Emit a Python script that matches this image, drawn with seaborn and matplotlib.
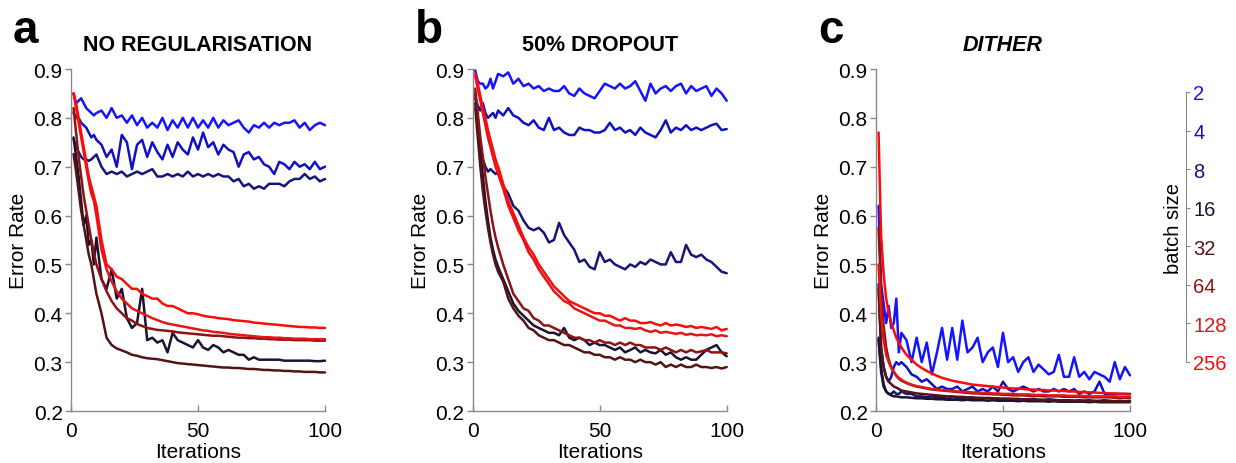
import numpy as np
import pandas as pd
import matplotlib
matplotlib.use('Agg')
import matplotlib.pyplot as plt
import seaborn as sns

iters = list(range(1, 11)) + list(range(12, 101, 2))

batch_sizes = ['2', '4', '8', '16', '32', '64', '128', '256']
batch_colors = ['#1414ff', '#1010c4', '#15157a', '#1e1232',
                '#521414', '#8e1212', '#e41616', '#ff0a0a']

# ---- a: no regularisation
a_2 = [0.85, 0.83, 0.835, 0.84, 0.83, 0.82, 0.815, 0.81, 0.805, 0.81,
       0.815, 0.80, 0.82, 0.80, 0.805, 0.79, 0.805, 0.785, 0.80, 0.78,
       0.79, 0.78, 0.80, 0.775, 0.795, 0.78, 0.80, 0.78, 0.80, 0.78,
       0.795, 0.78, 0.80, 0.78, 0.795, 0.785, 0.79, 0.795, 0.78, 0.77,
       0.785, 0.78, 0.79, 0.78, 0.79, 0.785, 0.79, 0.79, 0.795, 0.78,
       0.79, 0.775, 0.785, 0.79, 0.785]
a_4 = [0.81, 0.80, 0.80, 0.79, 0.785, 0.78, 0.77, 0.76, 0.765, 0.755,
       0.745, 0.72, 0.735, 0.70, 0.765, 0.75, 0.695, 0.745, 0.755, 0.72,
       0.75, 0.73, 0.715, 0.745, 0.72, 0.75, 0.735, 0.725, 0.76, 0.735,
       0.77, 0.74, 0.75, 0.725, 0.745, 0.735, 0.73, 0.70, 0.725, 0.73,
       0.715, 0.72, 0.705, 0.70, 0.685, 0.71, 0.705, 0.695, 0.71, 0.70,
       0.705, 0.695, 0.71, 0.695, 0.70]
a_8 = [0.757, 0.74, 0.73, 0.72, 0.715, 0.715, 0.712, 0.715, 0.72, 0.725,
       0.70, 0.685, 0.69, 0.685, 0.69, 0.68, 0.685, 0.69, 0.685, 0.69,
       0.695, 0.68, 0.68, 0.685, 0.68, 0.685, 0.68, 0.69, 0.68, 0.685,
       0.68, 0.685, 0.68, 0.685, 0.68, 0.68, 0.67, 0.675, 0.66, 0.665,
       0.655, 0.66, 0.655, 0.665, 0.665, 0.665, 0.66, 0.67, 0.675, 0.675,
       0.685, 0.675, 0.68, 0.67, 0.675]
a_16 = [0.76, 0.72, 0.68, 0.63, 0.58, 0.60, 0.54, 0.55, 0.50, 0.555,
        0.47, 0.45, 0.49, 0.43, 0.45, 0.39, 0.37, 0.38, 0.45, 0.345,
        0.35, 0.34, 0.345, 0.32, 0.36, 0.345, 0.34, 0.335, 0.33, 0.345,
        0.33, 0.325, 0.335, 0.33, 0.32, 0.325, 0.32, 0.315, 0.315, 0.305,
        0.31, 0.305, 0.305, 0.305, 0.305, 0.305, 0.303, 0.303, 0.303, 0.303,
        0.303, 0.303, 0.302, 0.302, 0.303]
a_32 = [0.726, 0.69, 0.65, 0.61, 0.58, 0.55, 0.52, 0.50, 0.47, 0.44,
        0.40, 0.35, 0.335, 0.328, 0.324, 0.32, 0.315, 0.313, 0.31, 0.308,
        0.307, 0.306, 0.304, 0.302, 0.30, 0.298, 0.297, 0.296, 0.295, 0.294,
        0.293, 0.292, 0.291, 0.29, 0.289, 0.289, 0.288, 0.288, 0.287, 0.286,
        0.286, 0.285, 0.284, 0.284, 0.283, 0.283, 0.282, 0.282, 0.281, 0.281,
        0.28, 0.28, 0.28, 0.279, 0.279]
a_64 = [0.82, 0.77, 0.72, 0.68, 0.64, 0.61, 0.58, 0.55, 0.525, 0.50,
        0.47, 0.445, 0.425, 0.41, 0.40, 0.39, 0.385, 0.378, 0.374, 0.37,
        0.368, 0.366, 0.365, 0.364, 0.363, 0.361, 0.36, 0.359, 0.358, 0.357,
        0.356, 0.355, 0.354, 0.354, 0.353, 0.352, 0.351, 0.35, 0.35, 0.349,
        0.349, 0.348, 0.348, 0.347, 0.347, 0.346, 0.346, 0.346, 0.345, 0.345,
        0.345, 0.345, 0.344, 0.344, 0.344]
a_128 = [0.85, 0.82, 0.79, 0.76, 0.73, 0.70, 0.67, 0.645, 0.63, 0.60,
         0.53, 0.49, 0.465, 0.445, 0.43, 0.42, 0.41, 0.405, 0.40, 0.395,
         0.39, 0.386, 0.382, 0.379, 0.377, 0.375, 0.373, 0.371, 0.369, 0.367,
         0.365, 0.364, 0.362, 0.361, 0.36, 0.358, 0.357, 0.356, 0.355, 0.354,
         0.353, 0.352, 0.351, 0.351, 0.35, 0.35, 0.349, 0.349, 0.348, 0.348,
         0.348, 0.347, 0.347, 0.347, 0.347]
a_256 = [0.85, 0.83, 0.80, 0.77, 0.74, 0.71, 0.68, 0.66, 0.64, 0.62,
         0.55, 0.50, 0.49, 0.475, 0.47, 0.46, 0.45, 0.45, 0.44, 0.435,
         0.43, 0.43, 0.42, 0.415, 0.415, 0.41, 0.405, 0.40, 0.40, 0.398,
         0.395, 0.393, 0.392, 0.39, 0.389, 0.388, 0.386, 0.385, 0.384, 0.383,
         0.381, 0.38, 0.379, 0.378, 0.377, 0.376, 0.375, 0.374, 0.373, 0.372,
         0.372, 0.371, 0.371, 0.37, 0.37]

# ---- b: 50% dropout
b_2 = [0.897, 0.875, 0.87, 0.87, 0.86, 0.865, 0.88, 0.86, 0.875, 0.89,
       0.885, 0.893, 0.87, 0.88, 0.865, 0.87, 0.86, 0.865, 0.855, 0.86,
       0.855, 0.855, 0.865, 0.85, 0.845, 0.86, 0.85, 0.845, 0.84, 0.855,
       0.87, 0.865, 0.86, 0.87, 0.86, 0.865, 0.875, 0.855, 0.835, 0.87,
       0.85, 0.86, 0.865, 0.855, 0.865, 0.87, 0.85, 0.865, 0.855, 0.86,
       0.865, 0.845, 0.86, 0.85, 0.835]
b_4 = [0.84, 0.825, 0.815, 0.83, 0.81, 0.80, 0.805, 0.81, 0.80, 0.815,
       0.805, 0.82, 0.805, 0.80, 0.79, 0.785, 0.795, 0.78, 0.775, 0.80,
       0.775, 0.78, 0.77, 0.765, 0.765, 0.78, 0.775, 0.775, 0.77, 0.77,
       0.775, 0.79, 0.775, 0.78, 0.77, 0.775, 0.765, 0.78, 0.77, 0.765,
       0.76, 0.775, 0.795, 0.77, 0.78, 0.775, 0.785, 0.775, 0.78, 0.775,
       0.78, 0.785, 0.788, 0.775, 0.777]
b_8 = [0.83, 0.78, 0.74, 0.715, 0.70, 0.69, 0.695, 0.69, 0.685, 0.69,
       0.66, 0.645, 0.62, 0.61, 0.59, 0.575, 0.57, 0.575, 0.565, 0.545,
       0.55, 0.585, 0.56, 0.545, 0.53, 0.505, 0.51, 0.495, 0.49, 0.525,
       0.505, 0.51, 0.50, 0.495, 0.49, 0.50, 0.495, 0.505, 0.50, 0.51,
       0.505, 0.50, 0.50, 0.525, 0.505, 0.505, 0.54, 0.52, 0.515, 0.52,
       0.51, 0.505, 0.495, 0.485, 0.482]
b_16 = [0.85, 0.79, 0.73, 0.68, 0.63, 0.59, 0.555, 0.53, 0.51, 0.495,
        0.47, 0.445, 0.42, 0.405, 0.395, 0.385, 0.375, 0.37, 0.365, 0.36,
        0.36, 0.355, 0.37, 0.35, 0.345, 0.35, 0.345, 0.335, 0.34, 0.335,
        0.335, 0.33, 0.325, 0.33, 0.32, 0.325, 0.33, 0.32, 0.325, 0.32,
        0.318, 0.325, 0.315, 0.32, 0.31, 0.305, 0.31, 0.305, 0.305, 0.315,
        0.325, 0.33, 0.335, 0.32, 0.312]
b_32 = [0.82, 0.76, 0.70, 0.65, 0.61, 0.575, 0.545, 0.52, 0.50, 0.485,
        0.465, 0.43, 0.41, 0.395, 0.385, 0.37, 0.365, 0.355, 0.35, 0.345,
        0.345, 0.34, 0.335, 0.335, 0.33, 0.325, 0.32, 0.32, 0.315, 0.315,
        0.31, 0.31, 0.305, 0.31, 0.305, 0.305, 0.30, 0.305, 0.30, 0.30,
        0.295, 0.30, 0.29, 0.295, 0.29, 0.295, 0.29, 0.29, 0.295, 0.29,
        0.29, 0.288, 0.29, 0.287, 0.29]
b_64 = [0.86, 0.81, 0.76, 0.72, 0.68, 0.645, 0.61, 0.58, 0.555, 0.535,
        0.50, 0.47, 0.44, 0.425, 0.41, 0.405, 0.39, 0.385, 0.375, 0.375,
        0.37, 0.365, 0.36, 0.355, 0.35, 0.35, 0.345, 0.345, 0.34, 0.345,
        0.34, 0.34, 0.335, 0.34, 0.335, 0.34, 0.335, 0.335, 0.33, 0.33,
        0.33, 0.325, 0.33, 0.325, 0.32, 0.325, 0.32, 0.325, 0.32, 0.322,
        0.325, 0.32, 0.32, 0.32, 0.318]
b_128 = [0.885, 0.86, 0.835, 0.81, 0.785, 0.76, 0.74, 0.72, 0.70, 0.685,
         0.655, 0.62, 0.595, 0.57, 0.55, 0.525, 0.51, 0.49, 0.475, 0.46,
         0.445, 0.435, 0.425, 0.42, 0.41, 0.405, 0.40, 0.395, 0.39, 0.385,
         0.385, 0.38, 0.375, 0.375, 0.37, 0.37, 0.368, 0.37, 0.365, 0.362,
         0.365, 0.36, 0.362, 0.36, 0.358, 0.36, 0.356, 0.358, 0.355, 0.356,
         0.355, 0.357, 0.353, 0.355, 0.353]
b_256 = [0.89, 0.87, 0.845, 0.82, 0.80, 0.775, 0.755, 0.735, 0.715, 0.70,
         0.665, 0.63, 0.605, 0.58, 0.555, 0.535, 0.52, 0.50, 0.485, 0.47,
         0.455, 0.445, 0.435, 0.425, 0.42, 0.415, 0.41, 0.405, 0.40, 0.40,
         0.395, 0.395, 0.39, 0.385, 0.39, 0.385, 0.385, 0.38, 0.38, 0.382,
         0.378, 0.375, 0.38, 0.375, 0.377, 0.375, 0.372, 0.374, 0.37, 0.372,
         0.37, 0.368, 0.372, 0.365, 0.368]

# ---- c: dither
c_2 = [0.62, 0.46, 0.42, 0.38, 0.415, 0.37, 0.38, 0.43, 0.32, 0.36,
       0.345, 0.30, 0.35, 0.30, 0.34, 0.275, 0.32, 0.37, 0.305, 0.37,
       0.305, 0.385, 0.32, 0.33, 0.35, 0.30, 0.32, 0.33, 0.29, 0.36,
       0.30, 0.31, 0.28, 0.30, 0.31, 0.28, 0.295, 0.285, 0.275, 0.28,
       0.315, 0.27, 0.27, 0.31, 0.27, 0.28, 0.265, 0.28, 0.275, 0.27,
       0.26, 0.30, 0.265, 0.29, 0.273]
c_4 = [0.46, 0.33, 0.29, 0.27, 0.26, 0.27, 0.29, 0.30, 0.295, 0.30,
       0.29, 0.275, 0.27, 0.26, 0.265, 0.255, 0.245, 0.25, 0.245, 0.245,
       0.25, 0.24, 0.245, 0.25, 0.24, 0.245, 0.24, 0.25, 0.24, 0.26,
       0.245, 0.24, 0.245, 0.25, 0.245, 0.24, 0.245, 0.24, 0.24, 0.245,
       0.24, 0.245, 0.24, 0.245, 0.235, 0.24, 0.235, 0.24, 0.26, 0.235,
       0.235, 0.235, 0.235, 0.235, 0.235]
c_8 = [0.345, 0.29, 0.255, 0.24, 0.235, 0.235, 0.24, 0.235, 0.235, 0.24,
       0.235, 0.235, 0.23, 0.23, 0.228, 0.23, 0.228, 0.228, 0.225, 0.228,
       0.227, 0.226, 0.228, 0.225, 0.226, 0.225, 0.227, 0.226, 0.224, 0.225,
       0.225, 0.224, 0.225, 0.223, 0.224, 0.225, 0.223, 0.222, 0.224, 0.223,
       0.222, 0.22, 0.222, 0.221, 0.222, 0.221, 0.222, 0.22, 0.221, 0.222,
       0.221, 0.22, 0.221, 0.22, 0.221]
c_16 = [0.35, 0.28, 0.25, 0.24, 0.235, 0.232, 0.23, 0.23, 0.229, 0.228,
        0.228, 0.227, 0.226, 0.226, 0.225, 0.225, 0.224, 0.224, 0.223, 0.223,
        0.223, 0.222, 0.223, 0.222, 0.222, 0.222, 0.221, 0.222, 0.221, 0.221,
        0.221, 0.221, 0.22, 0.221, 0.22, 0.22, 0.22, 0.22, 0.219, 0.22,
        0.219, 0.219, 0.219, 0.219, 0.219, 0.219, 0.218, 0.219, 0.218, 0.218,
        0.218, 0.218, 0.218, 0.218, 0.218]
c_32 = [0.45, 0.33, 0.29, 0.27, 0.26, 0.255, 0.25, 0.248, 0.245, 0.242,
        0.24, 0.238, 0.236, 0.235, 0.234, 0.233, 0.232, 0.231, 0.23, 0.23,
        0.229, 0.229, 0.228, 0.228, 0.227, 0.227, 0.226, 0.226, 0.226, 0.225,
        0.225, 0.225, 0.224, 0.224, 0.224, 0.223, 0.223, 0.223, 0.223, 0.222,
        0.222, 0.222, 0.222, 0.221, 0.221, 0.221, 0.221, 0.221, 0.22, 0.22,
        0.22, 0.22, 0.22, 0.22, 0.22]
c_64 = [0.575, 0.45, 0.375, 0.33, 0.305, 0.29, 0.28, 0.272, 0.266, 0.262,
        0.257, 0.253, 0.25, 0.248, 0.246, 0.244, 0.243, 0.242, 0.241, 0.24,
        0.239, 0.238, 0.237, 0.236, 0.236, 0.235, 0.235, 0.234, 0.234, 0.233,
        0.233, 0.232, 0.232, 0.232, 0.231, 0.231, 0.231, 0.23, 0.23, 0.23,
        0.23, 0.229, 0.229, 0.229, 0.229, 0.228, 0.228, 0.228, 0.228, 0.228,
        0.228, 0.227, 0.227, 0.227, 0.227]
c_128 = [0.50, 0.40, 0.345, 0.315, 0.30, 0.288, 0.28, 0.273, 0.268, 0.264,
         0.258, 0.254, 0.251, 0.249, 0.247, 0.245, 0.244, 0.243, 0.242, 0.241,
         0.24, 0.239, 0.239, 0.238, 0.238, 0.237, 0.237, 0.236, 0.236, 0.235,
         0.235, 0.235, 0.234, 0.234, 0.234, 0.233, 0.233, 0.233, 0.232, 0.232,
         0.232, 0.232, 0.231, 0.231, 0.231, 0.231, 0.23, 0.23, 0.23, 0.23,
         0.23, 0.23, 0.229, 0.229, 0.229]
c_256 = [0.77, 0.56, 0.48, 0.43, 0.40, 0.38, 0.365, 0.35, 0.34, 0.33,
         0.315, 0.305, 0.295, 0.288, 0.282, 0.277, 0.272, 0.268, 0.265, 0.262,
         0.26, 0.258, 0.256, 0.254, 0.253, 0.252, 0.251, 0.25, 0.249, 0.248,
         0.247, 0.246, 0.246, 0.245, 0.244, 0.244, 0.243, 0.243, 0.242, 0.242,
         0.241, 0.241, 0.24, 0.24, 0.239, 0.239, 0.238, 0.238, 0.237, 0.237,
         0.236, 0.236, 0.235, 0.235, 0.234]

panels = [
    ('a', 'NO REGULARISATION', 'normal', [a_2, a_4, a_8, a_16, a_32, a_64, a_128, a_256]),
    ('b', '50% DROPOUT', 'normal', [b_2, b_4, b_8, b_16, b_32, b_64, b_128, b_256]),
    ('c', 'DITHER', 'italic', [c_2, c_4, c_8, c_16, c_32, c_64, c_128, c_256]),
]
ax_left = [71, 472.7, 876]

sns.set_style('ticks')
plt.rcParams['font.family'] = ['Liberation Sans', 'DejaVu Sans']
plt.rcParams['text.color'] = 'black'
plt.rcParams['axes.labelcolor'] = 'black'

W, H = 1236, 464
fig = plt.figure(figsize=(W / 100, H / 100), dpi=100)
palette = dict(zip(batch_sizes, batch_colors))

for (letter, title, style, series), left in zip(panels, ax_left):
    ax = fig.add_axes([left / W, 1 - 412 / H, 254 / W, 342 / H])
    df = pd.DataFrame({
        'Iterations': np.tile(iters, len(batch_sizes)),
        'Error Rate': np.concatenate(series),
        'batch': np.repeat(batch_sizes, len(iters)),
    })
    sns.lineplot(data=df, x='Iterations', y='Error Rate', hue='batch',
                 hue_order=batch_sizes, palette=palette, estimator=None,
                 linewidth=1.8, legend=False, ax=ax, clip_on=False)
    ax.set_xlim(0, 100)
    ax.set_ylim(0.2, 0.9)
    ax.set_xticks([0, 50, 100])
    ax.set_yticks(np.round(np.arange(0.2, 0.91, 0.1), 1))
    ax.set_yticklabels(['%.1f' % v for v in np.arange(0.2, 0.91, 0.1)])
    sns.despine(ax=ax)
    for s in ['left', 'bottom']:
        ax.spines[s].set_color('#8a8a8a')
        ax.spines[s].set_linewidth(1.0)
    ax.tick_params(axis='y', direction='out', length=4, width=1,
                   color='#8a8a8a', labelcolor='black', labelsize=15, pad=2)
    ax.tick_params(axis='x', direction='in', length=4, width=1,
                   color='#8a8a8a', labelcolor='black', labelsize=15, pad=7)
    ax.set_xlabel('Iterations', fontsize=15, labelpad=2)
    ax.set_ylabel('Error Rate', fontsize=15, labelpad=4)
    ax.text(0.5, 1.073, title, transform=ax.transAxes, ha='center',
            va='center', fontsize=15.5, fontweight='bold', fontstyle=style)
    fig.text((left - 58) / W, 1 - 43 / H, letter, fontsize=33,
             fontweight='bold', va='baseline')

# batch size key on the right
lax = fig.add_axes([1186 / W, 1 - 363 / H, 0.0001, 270 / H])
lax.set_ylim(7, 0)
lax.set_xticks([])
lax.set_yticks(range(len(batch_sizes)))
lax.set_yticklabels(batch_sizes)
for sp in ['top', 'bottom', 'right']:
    lax.spines[sp].set_visible(False)
lax.spines['left'].set_color('#8a8a8a')
lax.tick_params(axis='y', left=False, right=True, labelleft=False,
                labelright=True, direction='out', length=3,
                color='#8a8a8a', labelsize=14.5, pad=2)
for lab, col in zip(lax.get_yticklabels(), batch_colors):
    lab.set_color(col)
lax.yaxis.set_label_position('left')
lax.set_ylabel('batch size', fontsize=14.5, labelpad=2)

fig.savefig('out.png', dpi=100)
